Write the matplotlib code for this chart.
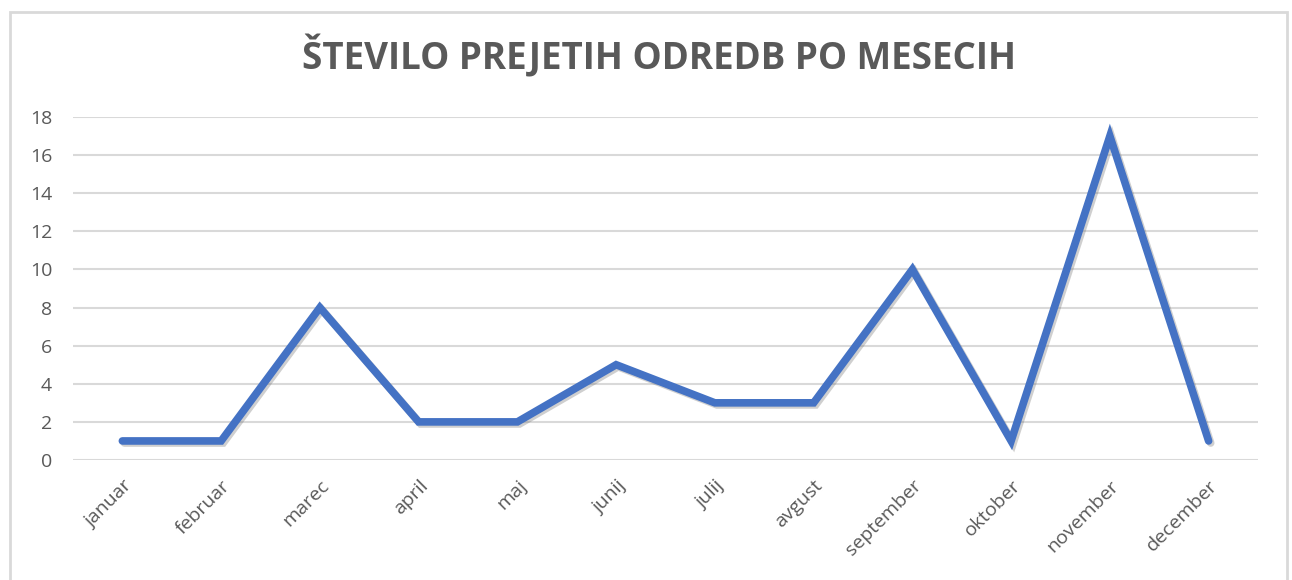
import matplotlib
matplotlib.use("Agg")
import matplotlib.pyplot as plt
from matplotlib.patches import Rectangle
import matplotlib.patheffects as pe

months = ["januar", "februar", "marec", "april", "maj", "junij", "julij",
          "avgust", "september", "oktober", "november", "december"]
values = [1, 1, 8, 2, 2, 5, 3, 3, 10, 1, 17, 1]
yticks = [0, 2, 4, 6, 8, 10, 12, 14, 16, 18]
title = "ŠTEVILO PREJETIH ODREDB PO MESECIH"

W, H = 1292, 580
fig = plt.figure(figsize=(W / 100, H / 100), dpi=100)
fig.patch.set_facecolor("white")

# outer chart frame
fig.add_artist(Rectangle((9.5 / W, -0.05), (1287 - 9.5) / W, 1.05 - 11.5 / H,
                         transform=fig.transFigure, fill=False,
                         edgecolor="#d9d9d9", linewidth=2))

ax = fig.add_axes([73 / W, 1 - 460 / H, (1258 - 73) / W, (460 - 117) / H])
x = list(range(len(months)))
ax.plot(x, values, color="#4472C4", linewidth=5.5, solid_capstyle="round",
        solid_joinstyle="miter",
        path_effects=[pe.SimpleLineShadow(offset=(1.5, -1.5), shadow_color="#777777", alpha=0.35),
                      pe.Normal()], zorder=3)
ax.set_xlim(-0.5, len(months) - 0.5)
ax.set_ylim(0, 18)
ax.set_yticks(yticks)
ax.set_yticklabels([str(v) for v in yticks])
ax.set_xticks(x)
ax.set_xticklabels(months, rotation=45, ha="right", rotation_mode="anchor")
ax.grid(axis="y", color="#d9d9d9", linewidth=1.5)
ax.set_axisbelow(True)
for s in ax.spines.values():
    s.set_visible(False)
ax.tick_params(axis="both", length=0, colors="#595959", labelsize=14)
ax.tick_params(axis="y", pad=15)
ax.tick_params(axis="x", pad=12)
for lab in ax.get_xticklabels() + ax.get_yticklabels():
    lab.set_family(["Open Sans", "DejaVu Sans"])

fig.text(659 / W, 1 - 57 / H, title, ha="center", va="center", fontsize=26.5,
         fontweight="bold", color="#595959", family=["Open Sans", "DejaVu Sans"])

fig.savefig("out.png", dpi=100, facecolor="white")
